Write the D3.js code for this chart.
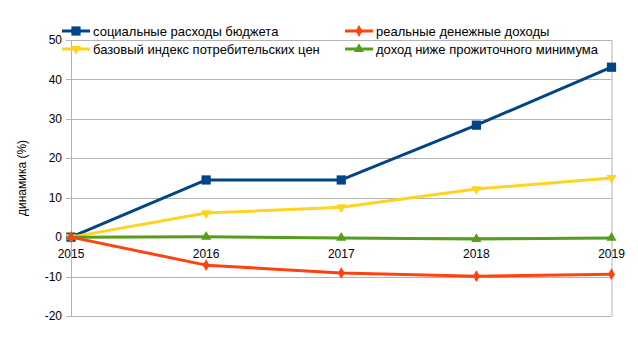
<!DOCTYPE html>
<html><head><meta charset="utf-8">
<script src="https://cdn.jsdelivr.net/npm/d3@7"></script>
<style>body{margin:0;background:#fff}svg{display:block;font-family:"Liberation Sans",Arial,sans-serif}</style>
</head><body><svg id="c" width="638" height="339"></svg>
<script>
const years = ["2015","2016","2017","2018","2019"];
const seriesNames = ["социальные расходы бюджета","реальные денежные доходы","базовый индекс потребительских цен","доход ниже прожиточного минимума"];
const socialSpending = [0, 14.5, 14.5, 28.4, 43.1];
const realIncome = [0, -7.1, -9.1, -9.9, -9.4];
const cpi = [0, 6.1, 7.6, 12.2, 15.0];
const belowMinimum = [0, 0.1, -0.2, -0.5, -0.2];
const yTicks = [-20, -10, 0, 10, 20, 30, 40, 50];

const colors = ["#004586","#ff420e","#ffd320","#579d1c"];
const symbols = [d3.symbolSquare, d3.symbolDiamond, "tri-down", d3.symbolTriangle];
const series = [socialSpending, realIncome, cpi, belowMinimum];

const svg = d3.select("#c");
const L = 71, R = 611.5, T = 40, B = 316;
const x = d3.scalePoint().domain(years).range([L, R]);
const y = d3.scaleLinear().domain([-20, 50]).range([B, T]);

// grid
svg.append("g").selectAll("line").data(yTicks).join("line")
  .attr("x1", L).attr("x2", R).attr("y1", d => Math.round(y(d)) + 0.5).attr("y2", d => Math.round(y(d)) + 0.5)
  .attr("stroke", "#b3b3b3").attr("stroke-width", 1);
// frame
svg.append("line").attr("x1", L+0.5).attr("x2", L+0.5).attr("y1", T).attr("y2", B+0.5).attr("stroke", "#b3b3b3");
svg.append("line").attr("x1", R+0.5).attr("x2", R+0.5).attr("y1", T).attr("y2", B+0.5).attr("stroke", "#b3b3b3");
// y ticks marks
svg.append("g").selectAll("line").data(yTicks).join("line")
  .attr("x1", L-5).attr("x2", L).attr("y1", d => Math.round(y(d)) + 0.5).attr("y2", d => Math.round(y(d)) + 0.5)
  .attr("stroke", "#b3b3b3");
// y labels
svg.append("g").selectAll("text").data(yTicks).join("text")
  .attr("x", 62).attr("y", d => y(d)).attr("dy", "0.35em").attr("text-anchor", "end")
  .attr("font-size", 12).attr("fill", "#000").text(d => d);
// x labels
svg.append("g").selectAll("text").data(years).join("text")
  .attr("x", d => x(d)).attr("y", y(0) + 21).attr("text-anchor", "middle")
  .attr("font-size", 12).attr("fill", "#000").text(d => d);
// y title
svg.append("text").attr("transform", `translate(26,${(T+B)/2}) rotate(-90)`)
  .attr("text-anchor", "middle").attr("font-size", 12).text("динамика (%)");

function drawSymbol(g, sym, size) {
  if (sym === "tri-down") {
    g.append("path").attr("d", d3.symbol(d3.symbolTriangle, size)()).attr("transform", "rotate(180)");
  } else {
    g.append("path").attr("d", d3.symbol(sym, size)());
  }
}
const sizes = [85, 40, 44, 44];
const line = d3.line().x((d, i) => x(years[i])).y(d => y(d));
const drawOrder = [0, 2, 3, 1];
drawOrder.forEach(k => {
  const g = svg.append("g");
  g.append("path").datum(series[k]).attr("d", line).attr("fill", "none")
    .attr("stroke", colors[k]).attr("stroke-width", 3).attr("stroke-linejoin", "round");
  series[k].forEach((v, i) => {
    const m = g.append("g").attr("transform", `translate(${x(years[i])},${y(v)})`).attr("fill", colors[k]);
    drawSymbol(m, symbols[k], sizes[k]);
  });
});

// legend
const legPos = [[62, 31], [345, 31], [62, 49], [345, 49]];
seriesNames.forEach((n, k) => {
  const [lx, ly] = legPos[k];
  const g = svg.append("g");
  g.append("line").attr("x1", lx).attr("x2", lx + 28).attr("y1", ly).attr("y2", ly)
    .attr("stroke", colors[k]).attr("stroke-width", 3);
  const m = g.append("g").attr("transform", `translate(${lx + 14},${ly})`).attr("fill", colors[k]);
  drawSymbol(m, symbols[k], sizes[k]);
  g.append("text").attr("x", lx + 31).attr("y", ly).attr("dy", "0.35em").attr("font-size", 13).text(n);
});
</script></body></html>
